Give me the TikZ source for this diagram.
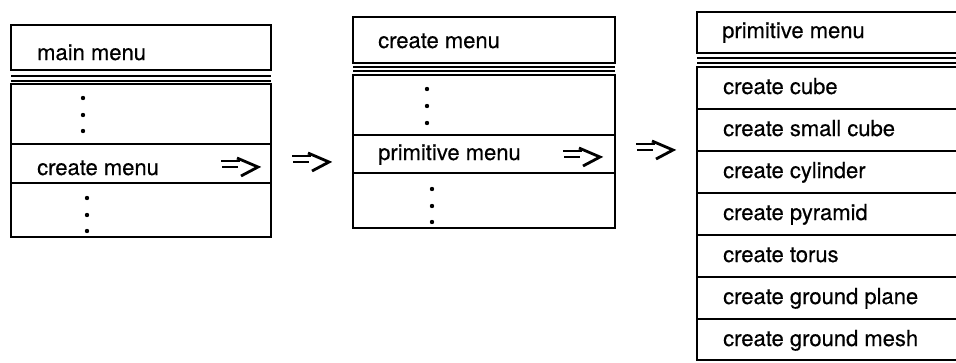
\documentclass[tikz,border=0pt]{standalone}
\usepackage{fontspec}
\setmainfont{TeX Gyre Heros}
\newfontfamily\menufont{TeX Gyre Heros}[FakeBold=0.4]
\usetikzlibrary{arrows.meta}
\tikzset{
  menubox/.style={draw=black, line width=2.6pt},
  entry/.style={anchor=base west, inner sep=0pt, font=\menufont\fontsize{22}{26}\selectfont},
  pics/goarrow/.style={code={
    \draw[line width=2.8pt] (0,-6) -- (19,-6) (1,0) -- (17,0);
    \draw[line width=2.8pt, line join=miter] (16,-9) -- (37,0) -- (20,9);
  }}
}

\begin{document}
\begin{tikzpicture}[x=1pt, y=-1pt]
  \useasboundingbox (0,0) rectangle (956,362);
  \begin{scope}
    \clip (0,0) rectangle (956,362);

    % main menu
    \draw[menubox] (11,25) rectangle (271,70);
    \draw[menubox] (11,76) -- (271,76) (11,81) -- (271,81);
    \draw[menubox] (11,84) rectangle (271,237);
    \draw[menubox] (11,144) -- (271,144) (11,183) -- (271,183);
    \node[entry] (mainTitle) at (37,60) {main menu};
    \node[entry] (mainCreate) at (37,175) {create menu};
    \foreach \y in {98,115,131} \fill (83,\y) circle[radius=2.2pt];
    \foreach \y in {198,215,231} \fill (87,\y) circle[radius=2.2pt];
    \pic at (221,167) {goarrow};

    \pic at (292,162) {goarrow};

    % create menu
    \draw[menubox] (353,17) rectangle (615,63);
    \draw[menubox] (353,67) -- (615,67) (353,71) -- (615,71);
    \draw[menubox] (353,75) rectangle (615,228);
    \draw[menubox] (353,135) -- (615,135) (353,173) -- (615,173);
    \node[entry] (createTitle) at (378,48) {create menu};
    \node[entry] (createPrim) at (378,160) {primitive menu};
    \foreach \y in {89,106,123} \fill (427,\y) circle[radius=2.2pt];
    \foreach \y in {189,206,222} \fill (432,\y) circle[radius=2.2pt];
    \pic at (563,157) {goarrow};

    \pic at (636,150) {goarrow};

    % primitive menu (runs off the right edge)
    \draw[menubox] (697,12) rectangle (975,53);
    \draw[menubox] (697,58) -- (975,58) (697,63) -- (975,63);
    \draw[menubox] (697,67) rectangle (975,360);
    \foreach \k in {1,...,6} \draw[menubox] (697,67+42*\k) -- (975,67+42*\k);
    \node[entry] (primTitle) at (722,38) {primitive menu};
    \foreach \k/\txt in {0/create cube, 1/create small cube, 2/create cylinder,
        3/create pyramid, 4/create torus, 5/create ground plane, 6/create ground mesh}
      \node[entry] (prim\k) at (723,94+42*\k) {\txt};
  \end{scope}
\end{tikzpicture}
\end{document}
